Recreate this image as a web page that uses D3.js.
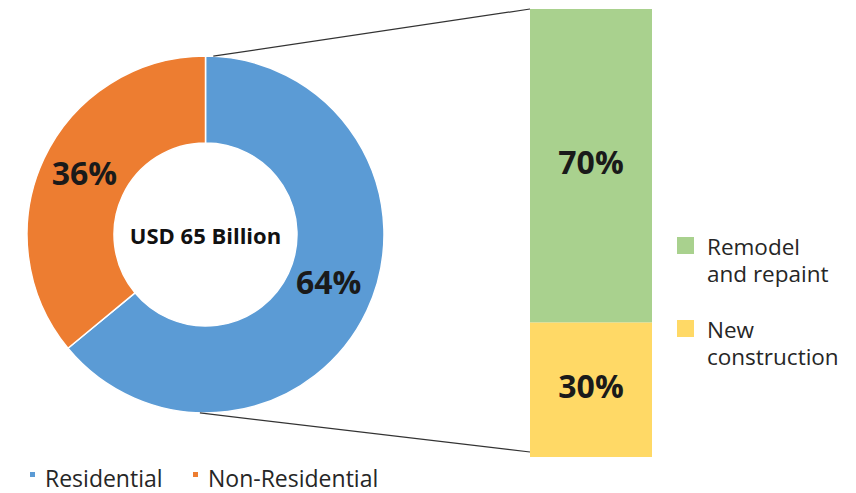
<!DOCTYPE html>
<html>
<head>
<meta charset="utf-8">
<script src="https://cdn.jsdelivr.net/npm/d3@7"></script>
<style>
  body { margin: 0; background: #fff; }
  svg { display: block; font-family: "Open Sans", "Noto Sans", sans-serif; }
</style>
</head>
<body>
<div id="chart"></div>
<script>
// market split (donut)
const segments = ["Residential", "Non-Residential"];
const segmentShare = [64, 36];
const segmentColors = ["#5B9BD5", "#ED7D31"];
const centerLabel = "USD 65 Billion";

// residential breakdown (stacked bar)
const types = ["Remodel and repaint", "New construction"];
const typeShare = [70, 30];
const typeColors = ["#A9D18E", "#FFD966"];
const typeLegendLines = [["Remodel", "and repaint"], ["New", "construction"]];

var width = 856, height = 493;
var cx = 205.5, cy = 234.5, outerR = 178.5, innerR = 91.5;

var svg = d3.select("#chart").append("svg")
  .attr("width", width)
  .attr("height", height);

var pieData = d3.pie().sort(null).value(d => d.value)(
  segments.map((s, i) => ({ name: s, value: segmentShare[i], color: segmentColors[i] }))
);

var arc = d3.arc().innerRadius(innerR).outerRadius(outerR);
var labelArc = d3.arc().innerRadius(135).outerRadius(135);

var donut = svg.append("g").attr("transform", "translate(" + cx + "," + cy + ")");

donut.selectAll("path")
  .data(pieData)
  .enter()
  .append("path")
  .attr("d", arc)
  .attr("fill", d => d.data.color)
  .attr("stroke", "#fff")
  .attr("stroke-width", 1.5);

// percent labels (nudged to match the reference)
var labelOffset = [[1, -10], [1, -5]];
donut.selectAll("text.pct")
  .data(pieData)
  .enter()
  .append("text")
  .attr("class", "pct")
  .attr("x", (d, i) => labelArc.centroid(d)[0] + labelOffset[i][0])
  .attr("y", (d, i) => labelArc.centroid(d)[1] + labelOffset[i][1])
  .attr("text-anchor", "middle")
  .attr("dominant-baseline", "central")
  .attr("font-size", 32)
  .attr("font-weight", 700)
  .attr("fill", "#1a1a1a")
  .text(d => d.data.value + "%");

donut.append("text")
  .attr("y", 0)
  .attr("text-anchor", "middle")
  .attr("dominant-baseline", "central")
  .attr("font-size", 22)
  .attr("font-weight", 700)
  .attr("fill", "#111")
  .text(centerLabel);

// stacked bar
var barX = 530, barW = 122;
var y = d3.scaleLinear().domain([0, 100]).range([457, 9]);

var stacked = [];
var acc = 100;
typeShare.forEach((v, i) => {
  stacked.push({ name: types[i], value: v, top: acc, bottom: acc - v, color: typeColors[i] });
  acc -= v;
});

svg.selectAll("rect.seg")
  .data(stacked)
  .enter()
  .append("rect")
  .attr("class", "seg")
  .attr("x", barX)
  .attr("width", barW)
  .attr("y", d => y(d.top))
  .attr("height", d => y(d.bottom) - y(d.top))
  .attr("fill", d => d.color);

svg.selectAll("text.barpct")
  .data(stacked)
  .enter()
  .append("text")
  .attr("class", "barpct")
  .attr("x", barX + barW / 2)
  .attr("y", d => (y(d.top) + y(d.bottom)) / 2 - 4.5)
  .attr("text-anchor", "middle")
  .attr("dominant-baseline", "central")
  .attr("font-size", 32)
  .attr("font-weight", 700)
  .attr("fill", "#1a1a1a")
  .text(d => d.value + "%");

// connector lines from donut to bar
var a1 = 2.5 * Math.PI / 180, a2 = 181.8 * Math.PI / 180;
var connectors = [
  [[cx + outerR * Math.sin(a1), cy - outerR * Math.cos(a1)], [barX, y(100)]],
  [[cx + outerR * Math.sin(a2), cy - outerR * Math.cos(a2)], [barX, y(0) - 5]]
];
svg.selectAll("line.conn")
  .data(connectors)
  .enter()
  .append("line")
  .attr("class", "conn")
  .attr("x1", d => d[0][0]).attr("y1", d => d[0][1])
  .attr("x2", d => d[1][0]).attr("y2", d => d[1][1])
  .attr("stroke", "#333")
  .attr("stroke-width", 1.2);

// right legend
var legR = svg.append("g").attr("transform", "translate(677,237)");
var legItems = legR.selectAll("g")
  .data(stacked)
  .enter()
  .append("g")
  .attr("transform", (d, i) => "translate(0," + i * 83 + ")");
legItems.append("rect")
  .attr("width", 17).attr("height", 17)
  .attr("fill", d => d.color);
legItems.each(function(d, i) {
  var t = d3.select(this).append("text")
    .attr("x", 30)
    .attr("font-size", 22.5)
    .attr("fill", "#262626");
  typeLegendLines[i].forEach((line, j) => {
    t.append("tspan").attr("x", 30).attr("y", 18 + j * 27).text(line);
  });
});

// bottom legend
var legB = svg.append("g").attr("transform", "translate(30,487)");
var legX = [0, 163];
var bItems = legB.selectAll("g")
  .data(pieData)
  .enter()
  .append("g")
  .attr("transform", (d, i) => "translate(" + legX[i] + ",0)");
bItems.append("rect")
  .attr("y", -15).attr("width", 5).attr("height", 5)
  .attr("fill", d => d.data.color);
bItems.append("text")
  .attr("x", 15)
  .attr("font-size", 23)
  .attr("fill", "#262626")
  .text(d => d.data.name);
</script>
</body>
</html>
